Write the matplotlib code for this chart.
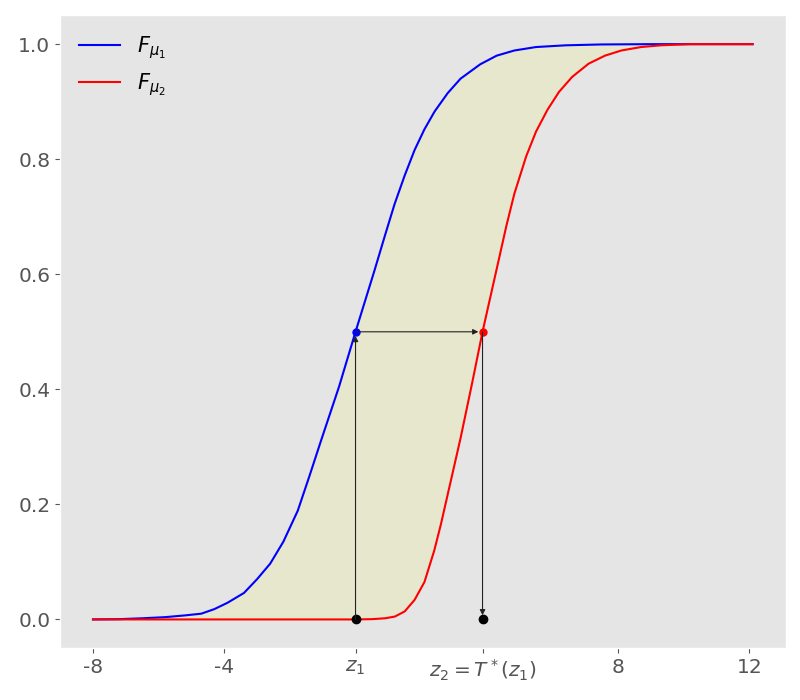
import numpy as np
import matplotlib
matplotlib.use('Agg')
import matplotlib.pyplot as plt

plt.style.use('ggplot')

# CDF of mu_1 (blue)
blue_x = [-8.0, -7.2, -6.5, -5.8, -5.2, -4.7, -4.3, -3.9, -3.4, -3.0, -2.6, -2.2, -1.76,
          -1.4, -1.05, -0.5, 0.0, 0.58, 0.9, 1.19, 1.5, 1.8, 2.1, 2.41, 2.81, 3.2, 3.8, 4.3,
          4.84, 5.5, 6.4, 7.5, 9.0, 12.1]
blue_y = [0.0, 0.0005, 0.002, 0.004, 0.007, 0.01, 0.018, 0.029, 0.046, 0.07, 0.097, 0.135, 0.189,
          0.25, 0.311, 0.405, 0.5, 0.607, 0.668, 0.722, 0.772, 0.816, 0.852, 0.883, 0.915, 0.94, 0.965, 0.98,
          0.989, 0.995, 0.998, 0.9995, 1.0, 1.0]

# CDF of mu_2 (red)
red_x = [-8.0, 0.0, 0.5, 0.9, 1.2, 1.5, 1.8, 2.1, 2.4, 2.6, 2.8, 3.2, 3.55, 3.87, 4.34, 4.6,
         4.84, 5.2, 5.5, 5.85, 6.2, 6.6, 7.1, 7.6, 8.1, 8.7, 9.3, 10.2, 12.1]
red_y = [0.0, 0.0, 0.0005, 0.002, 0.005, 0.014, 0.034, 0.065, 0.12, 0.165, 0.215, 0.315, 0.41, 0.5, 0.619, 0.685,
         0.74, 0.805, 0.848, 0.886, 0.917, 0.943, 0.966, 0.98, 0.989, 0.995, 0.998, 1.0, 1.0]

z1 = 0.0
z2 = 3.87
level = 0.5

xticks = [-8, -4, z1, z2, 8, 12]
xticklabels = ['-8', '-4', r'$z_1$', r'$z_2 = T^*(z_1)$', '8', '12']
yticks = [0.0, 0.2, 0.4, 0.6, 0.8, 1.0]

fig, ax = plt.subplots(figsize=(8, 7), dpi=100)
fig.patch.set_facecolor('white')
plt.subplots_adjust(left=0.075, right=0.982, bottom=0.074, top=0.978)

# shaded region between the two CDFs
ax.fill(np.r_[blue_x, red_x[::-1]], np.r_[blue_y, red_y[::-1]],
        color='yellow', alpha=0.1, lw=0)

ax.plot(blue_x, blue_y, color='blue', lw=1.5, label=r'$F_{\mu_1}$')
ax.plot(red_x, red_y, color='red', lw=1.5, label=r'$F_{\mu_2}$')

# transport arrows
arrow = dict(arrowstyle='-|>', color='#222222', lw=0.8, mutation_scale=8, shrinkA=0, shrinkB=3)
ax.annotate('', xy=(z1, level), xytext=(z1, 0), arrowprops=arrow)
ax.annotate('', xy=(z2, level), xytext=(z1, level), arrowprops=arrow)
ax.annotate('', xy=(z2, 0), xytext=(z2, level), arrowprops=arrow)

ax.plot([z1], [level], 'o', color='blue', ms=5)
ax.plot([z2], [level], 'o', color='red', ms=5)
ax.plot([z1, z2], [0, 0], 'o', color='black', ms=6, ls='none')

ax.set_xticks(xticks)
ax.set_xticklabels(xticklabels)
ax.set_yticks(yticks)
ax.tick_params(labelsize=14.5, colors='#555555')
ax.grid(False)

ax.legend(loc='upper left', fontsize=15, frameon=False)

plt.savefig('out.png')
